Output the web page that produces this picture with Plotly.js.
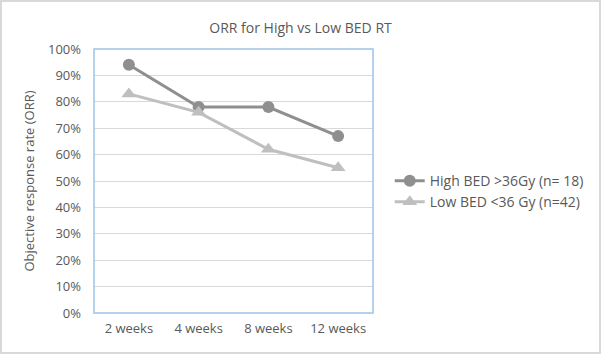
<!DOCTYPE html>
<html><head><meta charset="utf-8">
<script src="https://cdn.plot.ly/plotly-3.0.1.min.js"></script>
<style>
body{margin:0;padding:0;background:#fff;}
#wrap{position:relative;width:601px;height:354px;}
#chart{width:601px;height:354px;}
#frame{position:absolute;left:0;top:0;width:601px;height:354px;box-sizing:border-box;border:2px solid #d9d9d9;pointer-events:none;}
</style></head>
<body>
<div id="wrap"><div id="chart"></div><div id="frame"></div></div>
<script>
const categories = ["2 weeks", "4 weeks", "8 weeks", "12 weeks"];
const highBED = [0.94, 0.78, 0.78, 0.67];
const lowBED = [0.83, 0.76, 0.62, 0.55];
const highName = "High BED >36Gy (n= 18)";
const lowName = "Low BED <36 Gy (n=42)";
const titleText = "ORR for High vs Low BED RT";
const yTitle = "Objective response rate (ORR)";

const font = {family: "Open Sans, Noto Sans, sans-serif", size: 13, color: "#595959"};

const traces = [
  {x: categories, y: highBED, name: highName, type: "scatter", mode: "lines+markers",
   line: {color: "#8f8f8f", width: 3}, marker: {symbol: "circle", size: 12, color: "#8f8f8f"}},
  {x: categories, y: lowBED, name: lowName, type: "scatter", mode: "lines+markers",
   line: {color: "#bfbfbf", width: 3}, marker: {symbol: "triangle-up", size: 13, color: "#bfbfbf"}}
];

const layout = {
  width: 601, height: 354,
  margin: {l: 94, r: 228, t: 49, b: 41},
  paper_bgcolor: "#fff", plot_bgcolor: "#fff",
  font: font,
  title: {text: titleText, x: 0.5, xref: "container", xanchor: "center", y: 0.935, yref: "container",
          font: {family: font.family, size: 14, color: "#595959"}},
  xaxis: {type: "category", range: [-0.5, 3.5], showgrid: false, zeroline: false,
          showline: false, ticks: "", tickfont: font, ticklabelstandoff: 6},
  yaxis: {range: [0, 1], dtick: 0.1, tickformat: ".0%", showgrid: true, gridcolor: "#d9d9d9", gridwidth: 1,
          zeroline: false, showline: false, ticks: "", tickfont: font, ticklabelstandoff: 12,
          title: {text: yTitle, font: font, standoff: 10}},
  legend: {x: 1.06, xanchor: "left", y: 0.46, yanchor: "middle",
           font: {family: font.family, size: 14, color: "#595959"}, bgcolor: "rgba(0,0,0,0)"},
  shapes: [
    {type: "rect", xref: "paper", yref: "paper", x0: 0, x1: 1, y0: 0, y1: 1,
     line: {color: "#9dc3e6", width: 1.5}, layer: "above"}
  ],
  showlegend: true
};

Plotly.newPlot("chart", traces, layout, {displayModeBar: false, staticPlot: true});
</script>
</body></html>
